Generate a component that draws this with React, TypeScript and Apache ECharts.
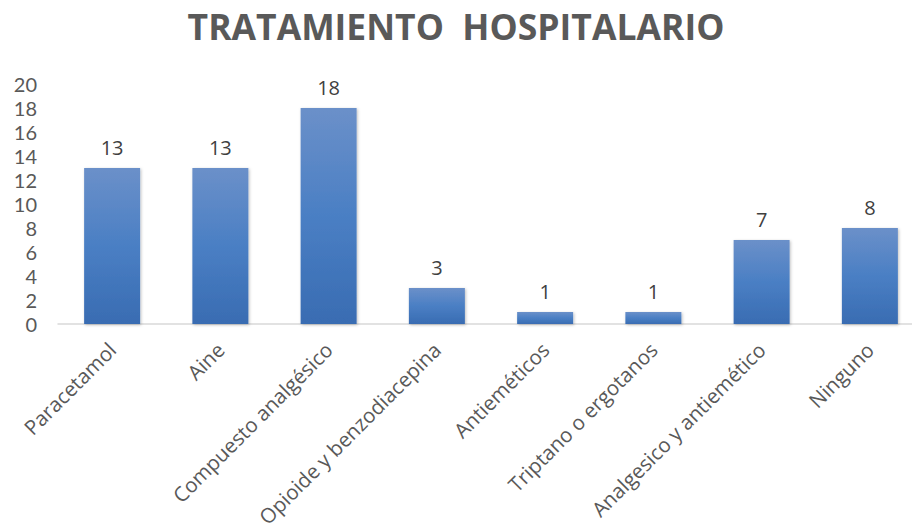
import React, { useEffect, useRef } from "react";
import * as echarts from "echarts";

const categories = [
  "Paracetamol",
  "Aine",
  "Compuesto analgésico",
  "Opioide y benzodiacepina",
  "Antieméticos",
  "Triptano o ergotanos",
  "Analgesico y antiemético",
  "Ninguno",
];
const values = [13, 13, 18, 3, 1, 1, 7, 8];
const titleText = "TRATAMIENTO  HOSPITALARIO";

export default function App() {
  const ref = useRef<HTMLDivElement>(null);
  useEffect(() => {
    document.body.style.margin = "0";
    if (!ref.current) return;
    const chart = echarts.init(ref.current, null, { renderer: "svg" });
    const font = "'Open Sans', 'Noto Sans', sans-serif";
    chart.setOption({
      animation: false,
      backgroundColor: "#ffffff",
      title: {
        text: titleText,
        left: "center",
        top: 3,
        textStyle: { fontFamily: font, fontSize: 35.5, fontWeight: "bold", color: "#595959" },
      },
      grid: {
        left: 58,
        width: 866,
        top: 84,
        bottom: 207,
        containLabel: false,
        outerBoundsMode: "none",
      },
      xAxis: {
        type: "category",
        data: categories,
        axisLine: { lineStyle: { color: "#d9d9d9", width: 1.5 } },
        axisTick: { show: false },
        axisLabel: {
          rotate: 45,
          interval: 0,
          margin: 22,
          fontFamily: font,
          fontSize: 20.5,
          lineHeight: 22,
          color: "#595959",
        },
      },
      yAxis: {
        type: "value",
        min: 0,
        max: 20,
        interval: 2,
        splitLine: { show: false },
        axisLine: { show: false },
        axisTick: { show: false },
        axisLabel: {
          fontFamily: "Lato, 'Open Sans', sans-serif",
          fontSize: 20,
          lineHeight: 20,
          color: "#595959",
          margin: 21,
        },
      },
      series: [
        {
          type: "bar",
          data: values,
          barWidth: 56,
          itemStyle: {
            color: new echarts.graphic.LinearGradient(0, 0, 0, 1, [
              { offset: 0, color: "#6b90c9" },
              { offset: 0.5, color: "#4a7fc4" },
              { offset: 1, color: "#396cb2" },
            ]),
            shadowColor: "rgba(0,0,0,0.25)",
            shadowBlur: 3,
            shadowOffsetX: 1,
            shadowOffsetY: 1,
          },
          label: {
            show: true,
            position: "top",
            distance: 11,
            fontFamily: font,
            fontSize: 20,
            lineHeight: 20,
            color: "#404040",
          },
        },
      ],
    });
    return () => chart.dispose();
  }, []);
  return <div ref={ref} style={{ width: 912, height: 531 }} />;
}
